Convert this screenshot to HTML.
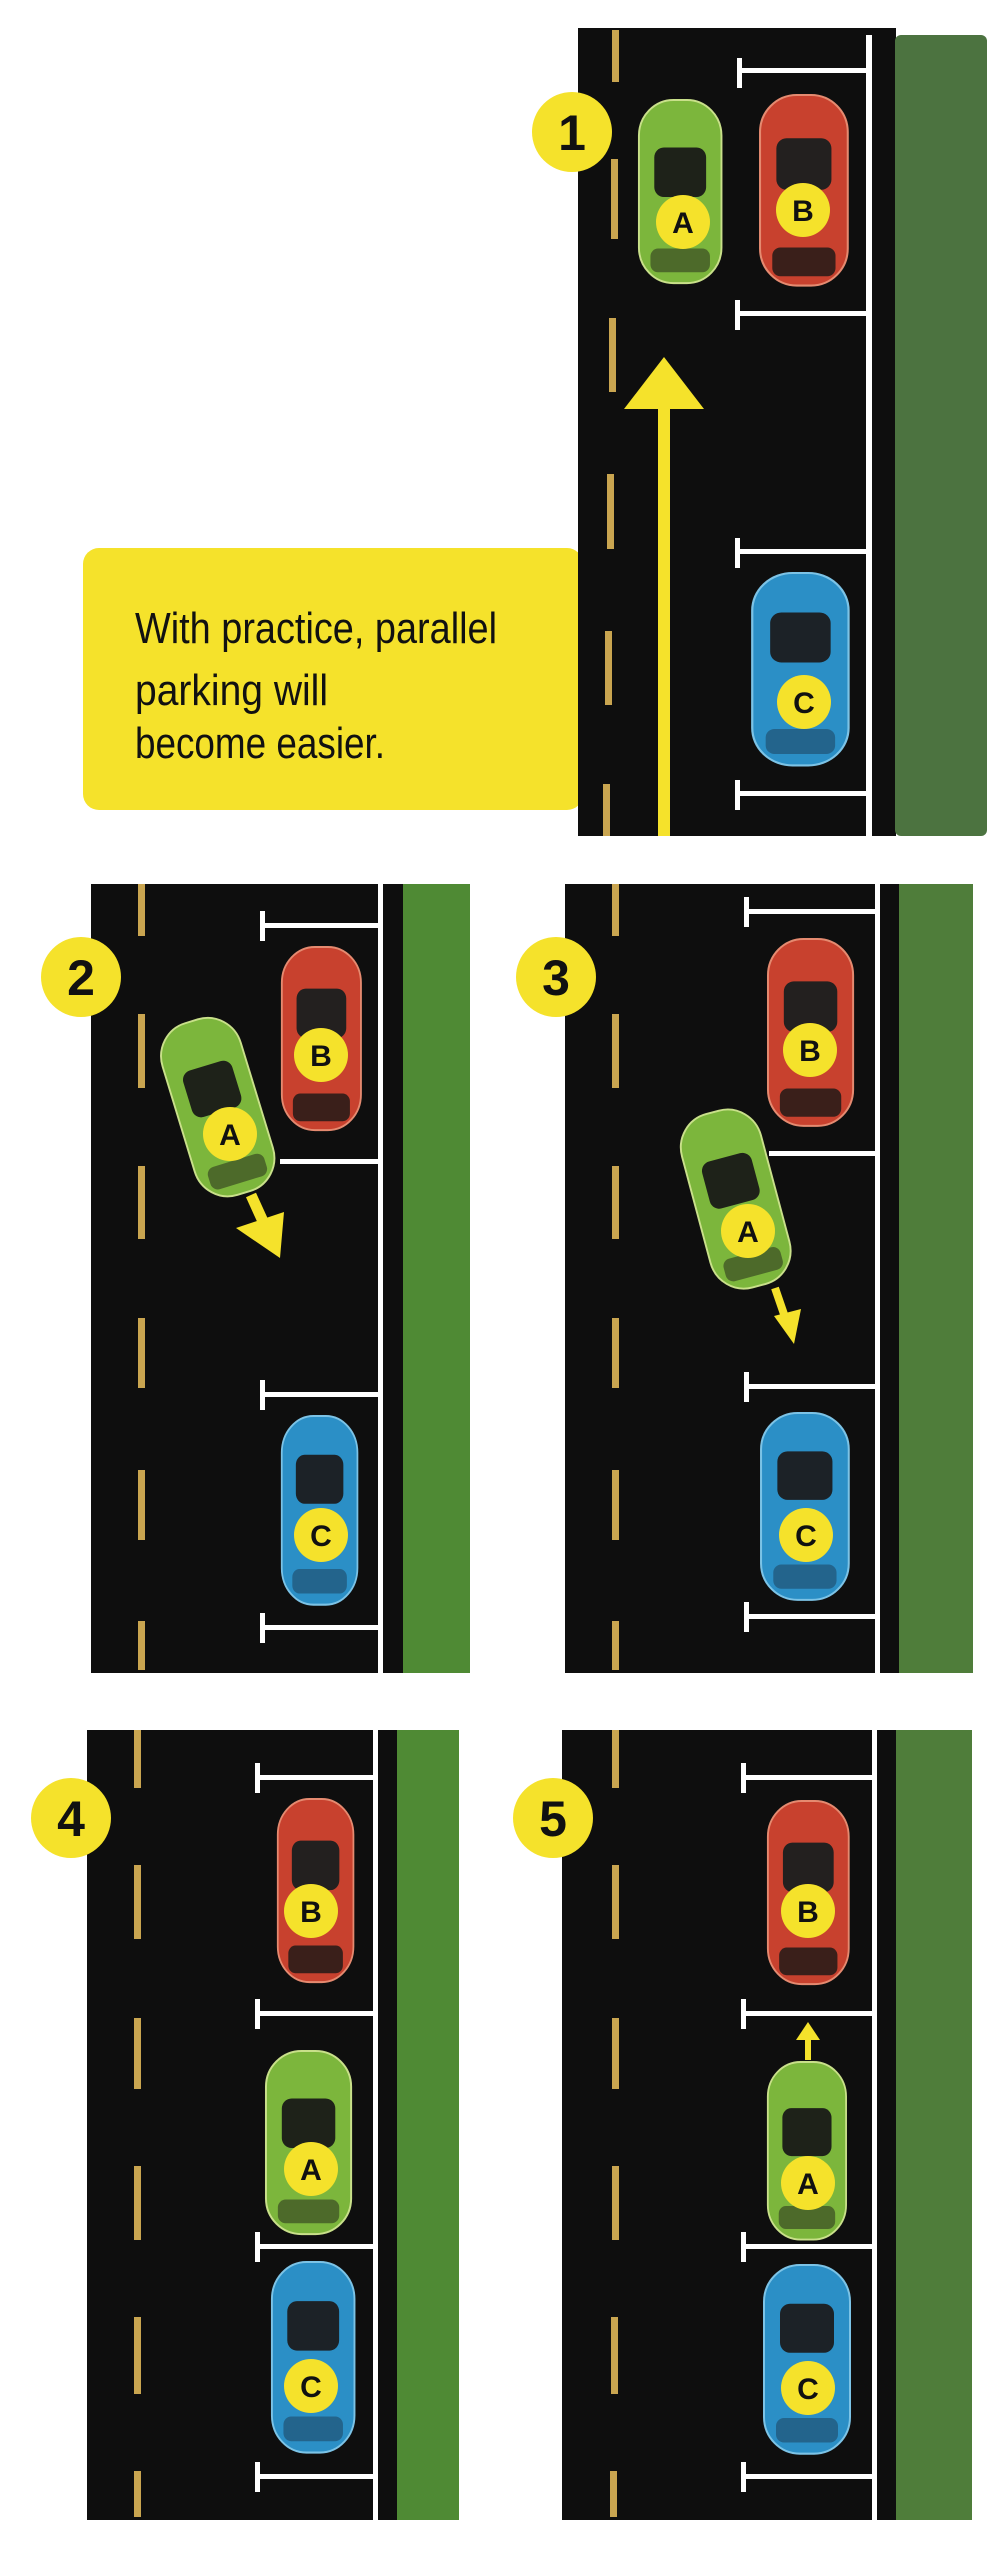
<!DOCTYPE html>
<html><head><meta charset="utf-8"><style>
html,body{margin:0;padding:0;background:#fff;}
svg{display:block;}
.lb{font-family:"Liberation Sans",sans-serif;font-weight:bold;fill:#111;text-anchor:middle;}
</style></head><body>
<svg width="995" height="2560" viewBox="0 0 995 2560" xmlns="http://www.w3.org/2000/svg">
<defs>
<g id="carG">
  <rect x="2" y="0" width="86" height="185" rx="36" fill="#7cb63c" stroke="#c9e08a" stroke-width="2"/>
  <rect x="18" y="48" width="54" height="50" rx="10" fill="#1e2219"/>
  <rect x="14" y="150" width="62" height="24" rx="8" fill="#4d6a2a"/>
</g>
<g id="carR">
  <rect x="2" y="0" width="86" height="185" rx="36" fill="#c8412e" stroke="#e58a70" stroke-width="2"/>
  <rect x="18" y="42" width="54" height="50" rx="10" fill="#23201f"/>
  <rect x="14" y="148" width="62" height="28" rx="8" fill="#3a1f1a"/>
</g>
<g id="carB">
  <rect x="2" y="0" width="86" height="185" rx="36" fill="#2b8fc6" stroke="#7cc3e6" stroke-width="2"/>
  <rect x="18" y="38" width="54" height="48" rx="10" fill="#1c2227"/>
  <rect x="14" y="150" width="62" height="24" rx="8" fill="#23648c"/>
</g>
</defs>

<!-- PANEL 1 -->
<rect x="83" y="548" width="500" height="262" rx="16" fill="#f5e22b"/>
<text x="135" y="643" font-family="Liberation Sans, sans-serif" font-size="44" fill="#111" textLength="362" lengthAdjust="spacingAndGlyphs">With practice, parallel</text>
<text x="135" y="705" font-family="Liberation Sans, sans-serif" font-size="44" fill="#111" textLength="193" lengthAdjust="spacingAndGlyphs">parking will</text>
<text x="135" y="758" font-family="Liberation Sans, sans-serif" font-size="44" fill="#111" textLength="250" lengthAdjust="spacingAndGlyphs">become easier.</text>
<rect x="578" y="28" width="318" height="808" fill="#0e0e0e"/>
<rect x="895" y="35" width="92" height="801" rx="6" fill="#4c7340"/>
<rect x="866" y="35" width="6" height="801" fill="#fff"/>
<g fill="#c9a550">
<rect x="612" y="30" width="7" height="52"/><rect x="611" y="159" width="7" height="80"/><rect x="609" y="318" width="7" height="74"/><rect x="607" y="474" width="7" height="75"/><rect x="605" y="631" width="7" height="74"/><rect x="603" y="784" width="7" height="52"/>
</g>
<g fill="#fff">
<rect x="740" y="68" width="128" height="5"/><rect x="737" y="58" width="5" height="30"/>
<rect x="737" y="311" width="131" height="5"/><rect x="735" y="300" width="5" height="30"/>
<rect x="737" y="549" width="131" height="5"/><rect x="735" y="538" width="5" height="30"/>
<rect x="737" y="791" width="131" height="5"/><rect x="735" y="780" width="5" height="30"/>
</g>
<use href="#carG" transform="translate(637,100) scale(0.96,0.99)"/>
<use href="#carR" transform="translate(758,95) scale(1.02,1.03)"/>
<use href="#carB" transform="translate(750,573) scale(1.12,1.04)"/>
<rect x="658" y="406" width="12" height="430" fill="#f5e22b"/>
<polygon points="664,357 704,409 624,409" fill="#f5e22b"/>
<circle cx="572" cy="132" r="40" fill="#f5e22b"/><text class="lb" x="572" y="150" font-size="50">1</text>
<circle cx="683" cy="222" r="27" fill="#f5e22b"/><text class="lb" x="683" y="233" font-size="30">A</text>
<circle cx="803" cy="210" r="27" fill="#f5e22b"/><text class="lb" x="803" y="221" font-size="30">B</text>
<circle cx="804" cy="702" r="27" fill="#f5e22b"/><text class="lb" x="804" y="713" font-size="30">C</text>

<!-- PANEL 2 -->
<rect x="91" y="884" width="312" height="789" fill="#0e0e0e"/>
<rect x="403" y="884" width="67" height="789" fill="#4f8a34"/>
<rect x="378" y="884" width="5" height="789" fill="#fff"/>
<g fill="#c9a550">
<rect x="138" y="884" width="7" height="52"/><rect x="138" y="1014" width="7" height="74"/><rect x="138" y="1166" width="7" height="73"/><rect x="138" y="1318" width="7" height="70"/><rect x="138" y="1470" width="7" height="70"/><rect x="138" y="1621" width="7" height="49"/>
</g>
<g fill="#fff">
<rect x="262" y="923" width="118" height="5"/><rect x="260" y="911" width="5" height="30"/>
<rect x="280" y="1159" width="100" height="5"/>
<rect x="262" y="1392" width="118" height="5"/><rect x="260" y="1380" width="5" height="30"/>
<rect x="262" y="1625" width="118" height="5"/><rect x="260" y="1613" width="5" height="30"/>
</g>
<use href="#carR" transform="translate(280,947) scale(0.92,0.99)"/>
<use href="#carB" transform="translate(280,1416) scale(0.88,1.02)"/>
<use href="#carG" transform="translate(219,1107) rotate(-17) translate(-44,-90) scale(0.95,0.97)"/>
<line x1="251" y1="1195" x2="266" y2="1228" stroke="#f5e22b" stroke-width="11"/>
<polygon points="280,1258 236,1228 284,1212" fill="#f5e22b"/>
<circle cx="81" cy="977" r="40" fill="#f5e22b"/><text class="lb" x="81" y="995" font-size="50">2</text>
<circle cx="230" cy="1134" r="27" fill="#f5e22b"/><text class="lb" x="230" y="1145" font-size="30">A</text>
<circle cx="321" cy="1055" r="27" fill="#f5e22b"/><text class="lb" x="321" y="1066" font-size="30">B</text>
<circle cx="321" cy="1535" r="27" fill="#f5e22b"/><text class="lb" x="321" y="1546" font-size="30">C</text>

<!-- PANEL 3 -->
<rect x="565" y="884" width="335" height="789" fill="#0e0e0e"/>
<rect x="899" y="884" width="74" height="789" fill="#4f7d3a"/>
<rect x="875" y="884" width="5" height="789" fill="#fff"/>
<g fill="#c9a550">
<rect x="612" y="884" width="7" height="52"/><rect x="612" y="1014" width="7" height="74"/><rect x="612" y="1166" width="7" height="73"/><rect x="612" y="1318" width="7" height="70"/><rect x="612" y="1470" width="7" height="70"/><rect x="612" y="1621" width="7" height="49"/>
</g>
<g fill="#fff">
<rect x="746" y="909" width="130" height="5"/><rect x="744" y="897" width="5" height="30"/>
<rect x="769" y="1151" width="107" height="5"/>
<rect x="746" y="1384" width="130" height="5"/><rect x="744" y="1372" width="5" height="30"/>
<rect x="746" y="1614" width="130" height="5"/><rect x="744" y="1602" width="5" height="30"/>
</g>
<use href="#carR" transform="translate(766,939) scale(0.99,1.01)"/>
<use href="#carB" transform="translate(759,1413) scale(1.02,1.01)"/>
<use href="#carG" transform="translate(737,1199) rotate(-15) translate(-44,-90) scale(0.95,0.97)"/>
<line x1="775" y1="1288" x2="786" y2="1320" stroke="#f5e22b" stroke-width="8"/>
<polygon points="794,1344 774,1316 801,1309" fill="#f5e22b"/>
<circle cx="556" cy="977" r="40" fill="#f5e22b"/><text class="lb" x="556" y="995" font-size="50">3</text>
<circle cx="748" cy="1231" r="27" fill="#f5e22b"/><text class="lb" x="748" y="1242" font-size="30">A</text>
<circle cx="810" cy="1050" r="27" fill="#f5e22b"/><text class="lb" x="810" y="1061" font-size="30">B</text>
<circle cx="806" cy="1535" r="27" fill="#f5e22b"/><text class="lb" x="806" y="1546" font-size="30">C</text>

<!-- PANEL 4 -->
<rect x="87" y="1730" width="310" height="790" fill="#0e0e0e"/>
<rect x="397" y="1730" width="62" height="790" fill="#4f8a34"/>
<rect x="373" y="1730" width="5" height="790" fill="#fff"/>
<g fill="#c9a550">
<rect x="134" y="1730" width="7" height="58"/><rect x="134" y="1865" width="7" height="74"/><rect x="134" y="2018" width="7" height="71"/><rect x="134" y="2166" width="7" height="74"/><rect x="134" y="2317" width="7" height="77"/><rect x="134" y="2471" width="7" height="46"/>
</g>
<g fill="#fff">
<rect x="257" y="1775" width="118" height="5"/><rect x="255" y="1763" width="5" height="30"/>
<rect x="257" y="2011" width="118" height="5"/><rect x="255" y="1999" width="5" height="30"/>
<rect x="257" y="2244" width="118" height="5"/><rect x="255" y="2232" width="5" height="30"/>
<rect x="257" y="2474" width="118" height="5"/><rect x="255" y="2462" width="5" height="30"/>
</g>
<use href="#carR" transform="translate(276,1799) scale(0.88,0.99)"/>
<use href="#carG" transform="translate(264,2051) scale(0.99,0.99)"/>
<use href="#carB" transform="translate(270,2262) scale(0.96,1.03)"/>
<circle cx="71" cy="1818" r="40" fill="#f5e22b"/><text class="lb" x="71" y="1836" font-size="50">4</text>
<circle cx="311" cy="2169" r="27" fill="#f5e22b"/><text class="lb" x="311" y="2180" font-size="30">A</text>
<circle cx="311" cy="1911" r="27" fill="#f5e22b"/><text class="lb" x="311" y="1922" font-size="30">B</text>
<circle cx="311" cy="2386" r="27" fill="#f5e22b"/><text class="lb" x="311" y="2397" font-size="30">C</text>

<!-- PANEL 5 -->
<rect x="562" y="1730" width="335" height="790" fill="#0e0e0e"/>
<rect x="896" y="1730" width="76" height="790" fill="#4f7d3a"/>
<rect x="872" y="1730" width="5" height="790" fill="#fff"/>
<g fill="#c9a550">
<rect x="612" y="1730" width="7" height="58"/><rect x="612" y="1865" width="7" height="74"/><rect x="612" y="2018" width="7" height="71"/><rect x="612" y="2166" width="7" height="74"/><rect x="611" y="2317" width="7" height="77"/><rect x="610" y="2471" width="7" height="46"/>
</g>
<g fill="#fff">
<rect x="743" y="1775" width="130" height="5"/><rect x="741" y="1763" width="5" height="30"/>
<rect x="743" y="2011" width="130" height="5"/><rect x="741" y="1999" width="5" height="30"/>
<rect x="743" y="2244" width="130" height="5"/><rect x="741" y="2232" width="5" height="30"/>
<rect x="743" y="2474" width="130" height="5"/><rect x="741" y="2462" width="5" height="30"/>
</g>
<use href="#carR" transform="translate(766,1801) scale(0.94,0.99)"/>
<use href="#carG" transform="translate(766,2062) scale(0.91,0.96)"/>
<use href="#carB" transform="translate(762,2265) scale(1.0,1.02)"/>
<rect x="805" y="2036" width="6" height="24" fill="#f5e22b"/>
<polygon points="808,2022 820,2040 796,2040" fill="#f5e22b"/>
<circle cx="553" cy="1818" r="40" fill="#f5e22b"/><text class="lb" x="553" y="1836" font-size="50">5</text>
<circle cx="808" cy="2183" r="27" fill="#f5e22b"/><text class="lb" x="808" y="2194" font-size="30">A</text>
<circle cx="808" cy="1911" r="27" fill="#f5e22b"/><text class="lb" x="808" y="1922" font-size="30">B</text>
<circle cx="808" cy="2388" r="27" fill="#f5e22b"/><text class="lb" x="808" y="2399" font-size="30">C</text>
</svg>
</body></html>
